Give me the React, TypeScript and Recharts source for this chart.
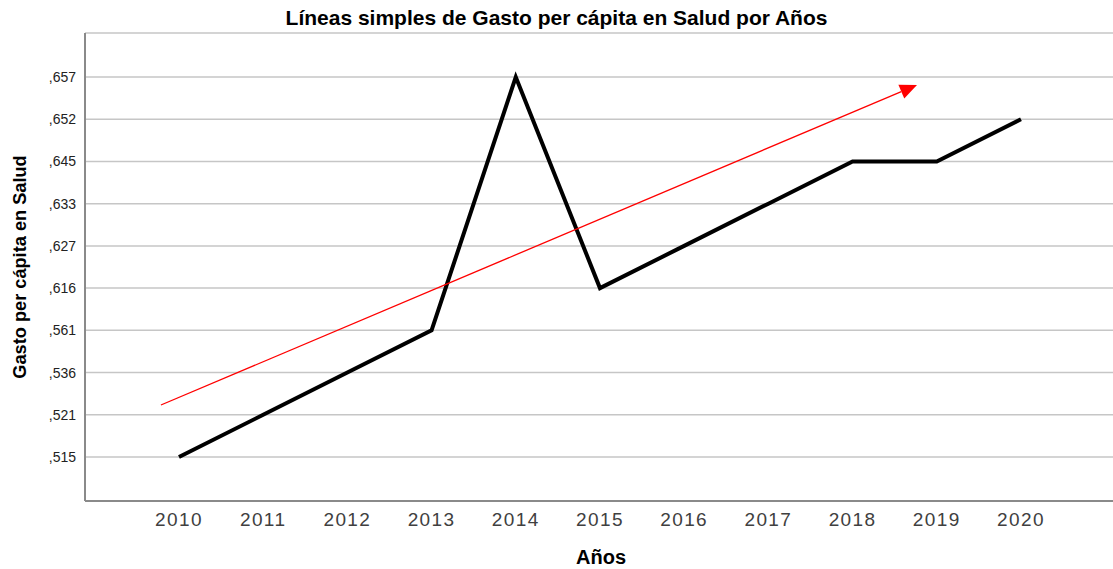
import { LineChart, Line, XAxis, YAxis, CartesianGrid, ReferenceLine } from 'recharts'

const years = [2010, 2011, 2012, 2013, 2014, 2015, 2016, 2017, 2018, 2019, 2020]
// SPSS treats the values as categories, ordered bottom to top
const yLabels = [',515', ',521', ',536', ',561', ',616', ',627', ',633', ',645', ',652', ',657']
const gasto = [',515', ',521', ',536', ',561', ',657', ',616', ',627', ',633', ',645', ',645', ',652']
// red trend arrow, in data units (year, category position)
const tendencia = [
  { x: 2009.786, y: 1.232 },
  { x: 2018.765, y: 8.811 },
]

const data = years.map((year, i) => ({ year, pos: yLabels.indexOf(gasto[i]) }))

const FONT = '"Liberation Sans", Arial, sans-serif'

function Arrow(props: any) {
  const { x1, y1, x2, y2 } = props
  const ang = Math.atan2(y2 - y1, x2 - x1)
  const len = 17
  const half = 7.5
  const bx = x2 - len * Math.cos(ang)
  const by = y2 - len * Math.sin(ang)
  const px = -Math.sin(ang) * half
  const py = Math.cos(ang) * half
  return (
    <g>
      <line x1={x1} y1={y1} x2={bx} y2={by} stroke="#ff0000" strokeWidth={1.3} />
      <polygon points={`${x2},${y2} ${bx + px},${by + py} ${bx - px},${by - py}`} fill="#ff0000" />
    </g>
  )
}

export default function App() {
  return (
    <div style={{ position: 'absolute', left: 0, top: 0, width: 1113, height: 569, background: '#fff' }}>
      <div
        style={{
          position: 'absolute',
          top: 6,
          left: 0,
          width: 1113,
          textAlign: 'center',
          fontFamily: FONT,
          fontWeight: 'bold',
          fontSize: 21,
          lineHeight: '24px',
          color: '#000',
        }}
      >
        Líneas simples de Gasto per cápita en Salud por Años
      </div>
      <LineChart width={1113} height={569} data={data} margin={{ top: 33, right: 0, bottom: 0, left: 0 }}>
        <CartesianGrid vertical={false} stroke="#c6c6c6" strokeWidth={1.5} />
        <XAxis
          dataKey="year"
          type="number"
          domain={[2008.884, 2021.093]}
          allowDataOverflow
          ticks={years}
          height={68}
          tickLine={false}
          tickMargin={6}
          axisLine={{ stroke: '#8a8a8a', strokeWidth: 2 }}
          tick={{ fontSize: 19, fill: '#404040', fontFamily: FONT, letterSpacing: 1.4 }}
          label={{
            content: (p: any) => (
              <text
                x={p.viewBox.x + p.viewBox.width / 2 + 2}
                y={564}
                textAnchor="middle"
                fontFamily={FONT}
                fontWeight="bold"
                fontSize={20}
                fill="#000"
              >
                Años
              </text>
            ),
          }}
        />
        <YAxis
          type="number"
          domain={[-1.042, 10.042]}
          allowDataOverflow
          ticks={yLabels.map((_, i) => i)}
          tickFormatter={(v: number) => yLabels[v]}
          width={85}
          tickLine={false}
          tickMargin={3}
          axisLine={{ stroke: '#8a8a8a', strokeWidth: 2 }}
          tick={{ fontSize: 14, fill: '#222', fontFamily: FONT }}
          label={{
            content: (p: any) => {
              const cx = 26
              const cy = p.viewBox.y + p.viewBox.height / 2
              return (
                <text
                  x={cx}
                  y={cy}
                  transform={`rotate(-90 ${cx} ${cy})`}
                  textAnchor="middle"
                  fontFamily={FONT}
                  fontWeight="bold"
                  fontSize={18.2}
                  fill="#000"
                >
                  Gasto per cápita en Salud
                </text>
              )
            },
          }}
        />
        <Line
          dataKey="pos"
          type="linear"
          stroke="#000"
          strokeWidth={4}
          dot={false}
          activeDot={false}
          isAnimationActive={false}
        />
        <ReferenceLine segment={tendencia} shape={Arrow} ifOverflow="visible" />
      </LineChart>
    </div>
  )
}
